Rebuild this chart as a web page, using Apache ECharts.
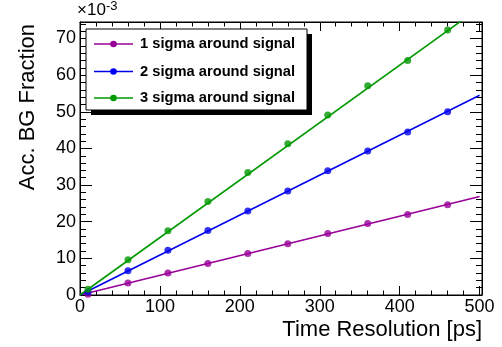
<!DOCTYPE html>
<html>
<head>
<meta charset="utf-8">
<script src="https://cdn.jsdelivr.net/npm/echarts@6/dist/echarts.min.js"></script>
<style>html,body{margin:0;padding:0;background:#fff}#c{width:502px;height:347px}</style>
</head>
<body>
<div id="c"></div>
<script>
// ---- data (values in units of 10^-3) ----
var timeRes = [10, 60, 110, 160, 210, 260, 310, 360, 410, 460];
var sigma1 = [0.2, 3.3, 6.0, 8.6, 11.3, 14.0, 16.8, 19.5, 22.0, 24.6];
var sigma2 = [0.9, 6.6, 12.2, 17.6, 22.9, 28.4, 33.9, 39.3, 44.5, 50.0];
var sigma3 = [1.6, 9.6, 17.5, 25.5, 33.4, 41.3, 49.1, 57.1, 64.0, 72.3];
// straight fit lines (end points)
var fitX = [0, 500];
var fit1 = [0, 26.9];
var fit2 = [0, 54.5];
var fit3 = [0, 78.4];
var seriesNames = ['1 sigma around signal', '2 sigma around signal', '3 sigma around signal'];
var xTicks = [0, 100, 200, 300, 400, 500];
var yTicks = [0, 10, 20, 30, 40, 50, 60, 70];

var colors = ['#990099', '#0000ee', '#009900'];
var FONT = 'Liberation Sans, Arial, Helvetica, sans-serif';

function pairs(xs, ys) { return xs.map(function (x, i) { return [x, ys[i]]; }); }

var XMIN = 0, XMAX = 503, YMIN = 0, YMAX = 74.5;

function xAx(pos, interval, len, labels, line) {
  return {
    type: 'value', position: pos, min: XMIN, max: XMAX, interval: interval,
    axisLine: { show: line, onZero: false, lineStyle: { color: '#000', width: 1 } },
    axisTick: { show: true, inside: true, length: len, lineStyle: { color: '#000', width: 1 } },
    axisLabel: labels ? {
      show: true, margin: 3, color: '#000', fontSize: 18, fontFamily: FONT,
      showMaxLabel: false,
      formatter: function (v) { return xTicks.indexOf(v) >= 0 ? String(v) : ''; }
    } : { show: false },
    splitLine: { show: false }
  };
}
function yAx(pos, interval, len, labels, line) {
  return {
    type: 'value', position: pos, min: YMIN, max: YMAX, interval: interval,
    axisLine: { show: line, onZero: false, lineStyle: { color: '#000', width: 1 } },
    axisTick: { show: true, inside: true, length: len, lineStyle: { color: '#000', width: 1 } },
    axisLabel: labels ? {
      show: true, margin: 4, color: '#000', fontSize: 18, fontFamily: FONT,
      showMaxLabel: false,
      formatter: function (v) { return yTicks.indexOf(v) >= 0 ? String(v) : ''; }
    } : { show: false },
    splitLine: { show: false }
  };
}

var dataSets = [sigma1, sigma2, sigma3];
var fits = [fit1, fit2, fit3];
var series = [];
for (var i = 0; i < 3; i++) {
  series.push({
    name: seriesNames[i] + ' fit', type: 'line', data: pairs(fitX, fits[i]),
    showSymbol: false, symbol: 'none', clip: true, silent: true,
    lineStyle: { color: colors[i], width: 1.6 }, z: 2, animation: false
  });
  series.push({
    name: seriesNames[i], type: 'scatter', data: pairs(timeRes, dataSets[i]),
    symbol: 'circle', symbolSize: 7, itemStyle: { color: colors[i] }, z: 3, animation: false
  });
}

// legend drawn as graphic
var lg = { x: 86, y: 29, w: 221, h: 81 };
var legendEls = [
  { type: 'rect', shape: { x: lg.x + 5, y: lg.y + 5, width: lg.w, height: lg.h }, style: { fill: '#000' }, z: 10 },
  { type: 'rect', shape: { x: lg.x, y: lg.y, width: lg.w, height: lg.h }, style: { fill: '#fff', stroke: '#000', lineWidth: 1 }, z: 11 }
];
var rowsY = [44, 71.5, 98];
for (var k = 0; k < 3; k++) {
  legendEls.push({ type: 'line', shape: { x1: 94, y1: rowsY[k], x2: 133, y2: rowsY[k] }, style: { stroke: colors[k], lineWidth: 1.6 }, z: 12 });
  legendEls.push({ type: 'circle', shape: { cx: 113.5, cy: rowsY[k], r: 3.3 }, style: { fill: colors[k] }, z: 13 });
  legendEls.push({ type: 'text', x: 140, y: rowsY[k], style: { text: seriesNames[k], fontSize: 14.7, fontWeight: 'bold', fontFamily: FONT, fill: '#000', textVerticalAlign: 'middle', verticalAlign: 'middle' }, z: 13 });
}

var chart = echarts.init(document.getElementById('c'), null, { renderer: 'canvas' });
chart.setOption({
  animation: false,
  backgroundColor: '#fff',
  grid: { left: 80, right: 20, top: 22, bottom: 52, show: true, borderColor: '#000', borderWidth: 1, backgroundColor: 'transparent' },
  xAxis: [
    xAx('bottom', 100, 9, true, true),
    xAx('bottom', 20, 4.5, false, false),
    xAx('top', 100, 9, false, true),
    xAx('top', 20, 4.5, false, false)
  ],
  yAxis: [
    yAx('left', 10, 12, true, true),
    yAx('left', 2, 6, false, false),
    yAx('right', 10, 12, false, true),
    yAx('right', 2, 6, false, false)
  ],
  series: series,
  graphic: legendEls.concat([
    { type: 'text', x: 482, y: 330, style: { text: 'Time Resolution [ps]', fontSize: 22, fontFamily: FONT, fill: '#000', textAlign: 'right', align: 'right', textVerticalAlign: 'middle', verticalAlign: 'middle' } },
    { type: 'text', x: 28, y: 24, rotation: Math.PI / 2, style: { text: 'Acc. BG Fraction', fontSize: 22, fontFamily: FONT, fill: '#000', textAlign: 'right', align: 'right', textVerticalAlign: 'middle', verticalAlign: 'middle' } },
    { type: 'text', x: 77, y: 2, style: { text: '\u00d710', fontSize: 17, fontFamily: FONT, fill: '#000', textVerticalAlign: 'top', verticalAlign: 'top' } },
    { type: 'text', x: 106, y: 0, style: { text: '-3', fontSize: 13, fontFamily: FONT, fill: '#000', textVerticalAlign: 'top', verticalAlign: 'top' } }
  ])
});
</script>
</body>
</html>
